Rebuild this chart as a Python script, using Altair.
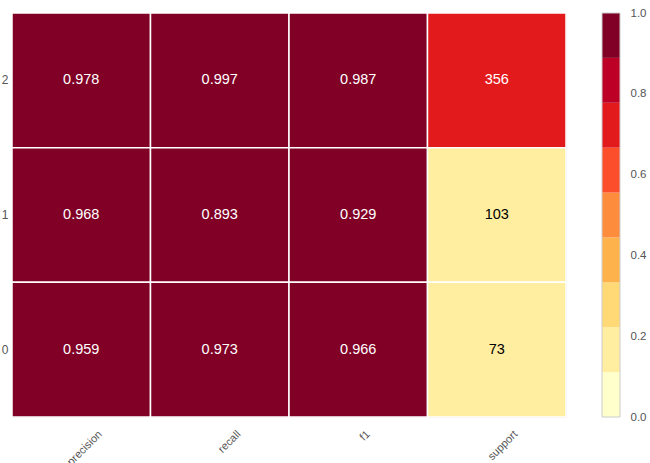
import altair as alt
import pandas as pd

classes = ["2", "1", "0"]
metrics = ["precision", "recall", "f1", "support"]
precision = [0.978, 0.968, 0.959]
recall = [0.997, 0.893, 0.973]
f1 = [0.987, 0.929, 0.966]
support = [356, 103, 73]

colors = ["#ffffcc", "#ffeda0", "#fed976", "#feb24c", "#fd8d3c",
          "#fc4e2a", "#e31a1c", "#bd0026", "#800026"]
cbar_ticks = [0.0, 0.2, 0.4, 0.6, 0.8, 1.0]

total = sum(support)
rows = []
for i, c in enumerate(classes):
    for m, vals in zip(metrics[:3], [precision, recall, f1]):
        rows.append(dict(cls=c, metric=m, score=vals[i], label=f"{vals[i]:.3f}"))
    rows.append(dict(cls=c, metric="support", score=support[i] / total, label=str(support[i])))
df = pd.DataFrame(rows)

n = len(colors)
bins = pd.DataFrame({"lo": [k / n for k in range(n)], "hi": [(k + 1) / n for k in range(n)]})
bins["mid"] = (bins.lo + bins.hi) / 2

color_scale = alt.Scale(type="threshold", domain=[k / n for k in range(1, n)], range=colors)

FONT = "Liberation Sans"
W, H = 554, 404

xenc = alt.X("metric:N", sort=metrics, title=None,
             scale=alt.Scale(paddingInner=0, paddingOuter=0),
             axis=alt.Axis(labelAngle=-45, labelAlign="right", labelBaseline="top",
                           labelPadding=11,
                           labelOffset={"condition": {"test": "datum.label == 'f1'", "value": 6},
                                        "value": 15},
                           ticks=False, tickSize=0, domain=False,
                           labelFontSize=11, labelColor="#555555", labelFont=FONT))
yenc = alt.Y("cls:N", sort=classes, title=None,
             scale=alt.Scale(paddingInner=0, paddingOuter=0),
             axis=alt.Axis(labelAngle=0, labelPadding=4, ticks=False, tickSize=0, domain=False,
                           labelFontSize=12, labelColor="#555555", labelFont=FONT))

base = alt.Chart(df)
cells = base.mark_rect(stroke="white", strokeWidth=1.5).encode(
    x=xenc, y=yenc,
    color=alt.Color("score:Q", scale=color_scale, legend=None),
)
text = base.mark_text(fontSize=14.5, font=FONT).encode(
    x=xenc, y=yenc,
    text="label:N",
    color=alt.condition("datum.score > 0.5", alt.value("white"), alt.value("black")),
)
heat = alt.layer(cells, text)

cx = alt.X(datum=0, scale=alt.Scale(domain=[0, 1], range=[590, 608]), axis=None)
cbar_rects = alt.Chart(bins).mark_rect().encode(
    x=cx, x2=alt.X2(datum=1),
    y=alt.Y("lo:Q", scale=alt.Scale(domain=[0, 1], nice=False, zero=False),
            axis=alt.Axis(orient="right", offset=54, values=cbar_ticks, format=".1f",
                          ticks=False, tickSize=0, domain=False, grid=False, labelPadding=10,
                          labelFontSize=11.5, labelColor="#555555", labelFont=FONT, title=None)),
    y2="hi:Q",
    color=alt.Color("mid:Q", scale=color_scale, legend=None),
)
cbar_border = alt.Chart(bins).mark_rect(fill=None, stroke="#cccccc", strokeWidth=1).encode(
    x=cx, x2=alt.X2(datum=1),
    y=alt.Y("min(lo):Q"), y2=alt.Y2("max(hi):Q"),
)
cbar = alt.layer(cbar_rects, cbar_border)

chart = alt.layer(heat, cbar).resolve_scale(x="independent", y="independent").properties(
    width=W, height=H,
    autosize=alt.AutoSizeParams(type="none"),
    padding={"left": 12, "top": 13, "right": 84, "bottom": 46},
).configure_view(stroke=None).configure_axis(grid=False).configure(background="white")

chart.save("out.html", embed_options={"renderer": "svg", "actions": False})
